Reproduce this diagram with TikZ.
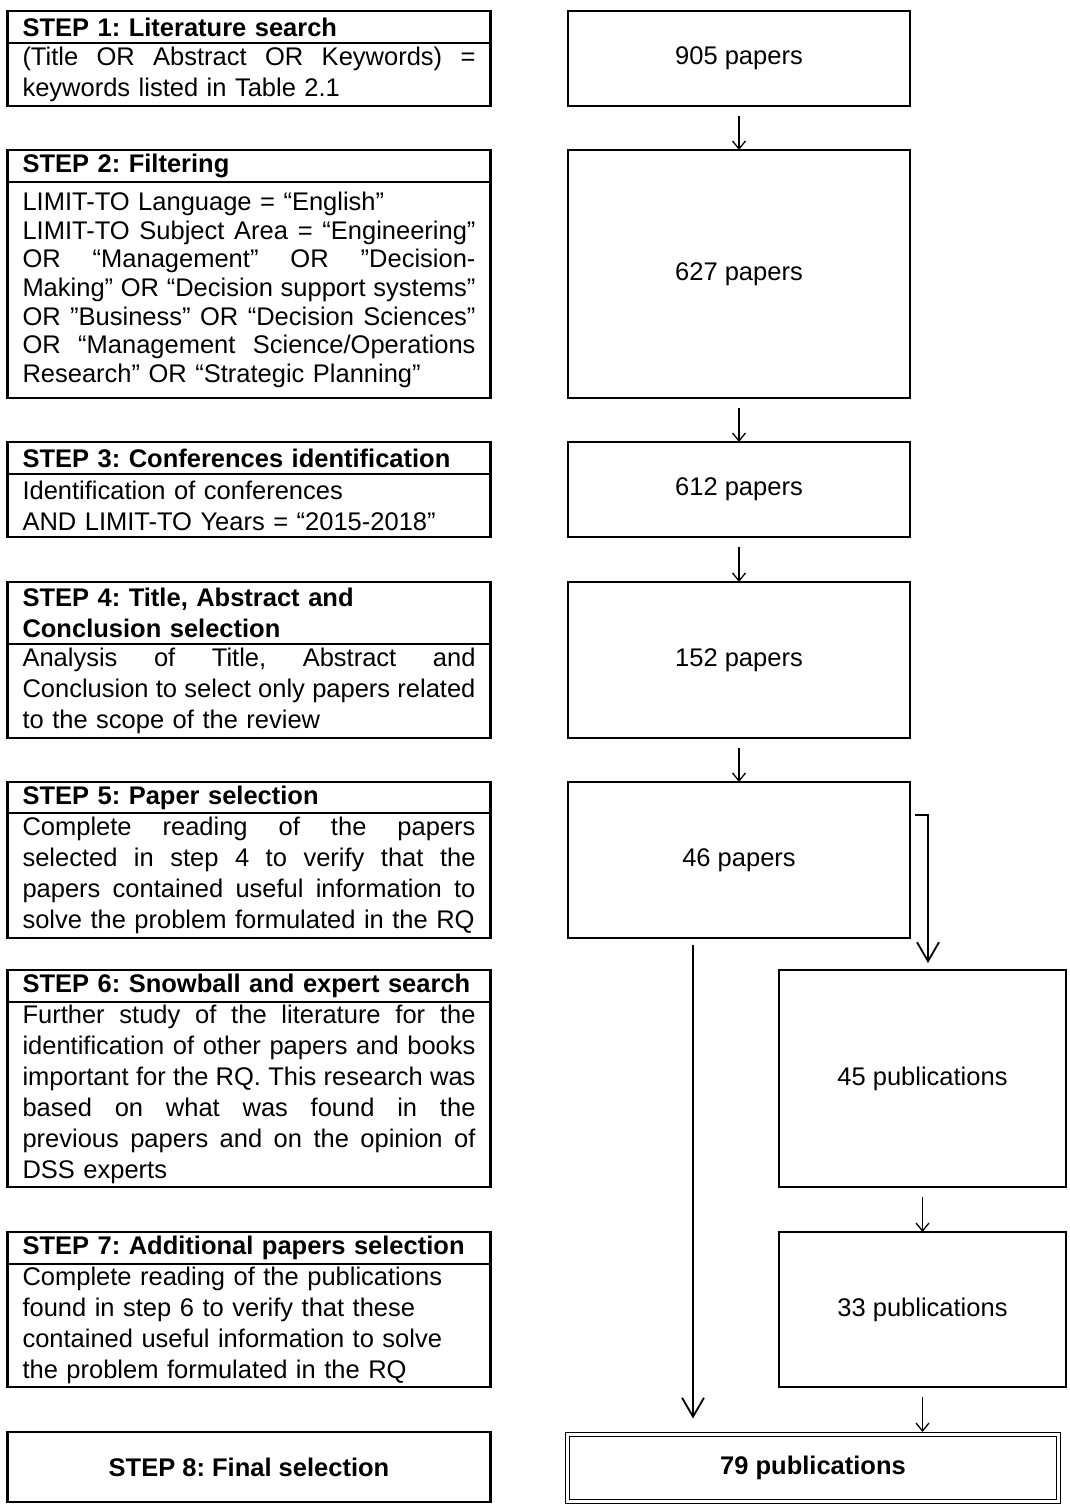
\documentclass[tikz,border=0pt]{standalone}
\usepackage{fontspec}
\setmainfont{Liberation Sans}
\usetikzlibrary{arrows.meta,calc}
\setlength\parindent{0pt}
\frenchspacing
% a line stretched to the full column width (justified line)
\newcommand\jl[1]{\leavevmode\hbox to 453pt{\spaceskip=\fontdimen2\font plus 1fil\relax #1}\\}
% a line kept at its natural width
\newcommand\nl[1]{\mbox{#1}}

\begin{document}
\begin{tikzpicture}[x=1pt,y=-1pt,
  box/.style={draw,line width=2.4pt,anchor=north west,inner sep=0pt,outer sep=0pt},
  hdr/.style={box,text width=453pt,inner xsep=15pt,minimum height=32pt,align=left,
    font=\frenchspacing\bfseries\fontsize{25.5}{31}\selectfont},
  body/.style={box,text width=453pt,inner xsep=15pt,align=left,
    font=\frenchspacing\fontsize{25.5}{31}\selectfont},
  rbox/.style={box,minimum width=342pt,font=\fontsize{25.5}{31}\selectfont},
  pbox/.style={box,minimum width=287pt,font=\fontsize{25.5}{31}\selectfont},
  small/.style={line width=1.3pt,-{Straight Barb[length=8pt,width=13pt]}},
  big/.style={line width=1.8pt,-{Straight Barb[length=19pt,width=22pt]}}]

\useasboundingbox (0,0) rectangle (1069,1506);

% left column: step descriptions
\node[hdr] (s1h) at (7.5,11) {STEP 1: Literature search};
\node[body,minimum height=63pt] (s1b) at (s1h.south west)
  {\jl{(Title OR Abstract OR Keywords) =}\nl{keywords listed in Table 2.1}};

\node[hdr] (s2h) at (7.5,150) {STEP 2: Filtering};
\node[body,minimum height=216pt,font=\frenchspacing\fontsize{25.5}{28.7}\selectfont] (s2b) at (s2h.south west)
  {\nl{LIMIT-TO Language = “English”}\\
   \jl{LIMIT-TO Subject Area = “Engineering”}
   \jl{OR “Management” OR ”Decision-}
   \jl{Making” OR “Decision support systems”}
   \jl{OR ”Business” OR “Decision Sciences”}
   \jl{OR “Management Science/Operations}
   \nl{Research” OR “Strategic Planning”}};

\node[hdr] (s3h) at (7.5,442) {STEP 3: Conferences identification};
\node[body,minimum height=63pt] (s3b) at (s3h.south west)
  {\nl{Identification of conferences}\\\nl{AND LIMIT-TO Years = “2015-2018”}};

\node[hdr,minimum height=62pt] (s4h) at (7.5,582) {STEP 4: Title, Abstract and\\Conclusion selection};
\node[body,minimum height=94pt] (s4b) at (s4h.south west)
  {\jl{Analysis of Title, Abstract and}
   \jl{Conclusion to select only papers related}
   \nl{to the scope of the review}};

\node[hdr,minimum height=31pt] (s5h) at (7.5,782) {STEP 5: Paper selection};
\node[body,minimum height=125pt] (s5b) at (s5h.south west)
  {\jl{Complete reading of the papers}
   \jl{selected in step 4 to verify that the}
   \jl{papers contained useful information to}
   \nl{solve the problem formulated in the RQ}};

\node[hdr] (s6h) at (7.5,970) {STEP 6: Snowball and expert search};
\node[body,minimum height=185pt] (s6b) at (s6h.south west)
  {\jl{Further study of the literature for the}
   \jl{identification of other papers and books}
   \jl{important for the RQ. This research was}
   \jl{based on what was found in the}
   \jl{previous papers and on the opinion of}
   \nl{DSS experts}};

\node[hdr] (s7h) at (7.5,1232) {STEP 7: Additional papers selection};
\node[body,minimum height=123pt] (s7b) at (s7h.south west)
  {\nl{Complete reading of the publications}\\
   \nl{found in step 6 to verify that these}\\
   \nl{contained useful information to solve}\\
   \nl{the problem formulated in the RQ}};

\node[box,minimum width=483pt,minimum height=70pt,font=\frenchspacing\bfseries\fontsize{25.5}{31}\selectfont]
  (s8) at (7.5,1432) {STEP 8: Final selection};

% right column: number of papers after each step
\node[rbox,minimum height=95pt]  (n905) at (568,11)  {905 papers};
\node[rbox,minimum height=248pt] (n627) at (568,150) {627 papers};
\node[rbox,minimum height=95pt]  (n612) at (568,442) {612 papers};
\node[rbox,minimum height=156pt] (n152) at (568,582) {152 papers};
\node[rbox,minimum height=156pt] (n46)  at (568,782) {46 papers};
\node[pbox,minimum height=217pt] (n45)  at (779,970) {45 publications};
\node[pbox,minimum height=155pt] (n33)  at (779,1232) {33 publications};
\node[draw,double,line width=1.2pt,double distance=2.6pt,anchor=north west,inner sep=0pt,outer sep=0pt,
  minimum width=491pt,minimum height=67pt,font=\bfseries\fontsize{25.5}{31}\selectfont]
  (n79) at (567.5,1434.5) {79 publications};

% connectors
\draw[small] ([yshift=-10pt]n905.south) -- (n627.north);
\draw[small] ([yshift=-10pt]n627.south) -- (n612.north);
\draw[small] ([yshift=-10pt]n612.south) -- (n152.north);
\draw[small] ([yshift=-10pt]n152.south) -- (n46.north);
\draw[small] ([yshift=-10pt]n45.south) -- (n33.north);
\draw[small] ([yshift=-10pt]n33.south) -- ([yshift=2.5pt]n33.south |- n79.north);
\draw[big] ($(n46.north east)+(5,33)$) -| ($(n45.north)+(5.5,-7)$);
\draw[big] ($(n46.south)+(-46,7)$) -- ($(n46.south |- n79.north)+(-46,-16)$);
\end{tikzpicture}
\end{document}
